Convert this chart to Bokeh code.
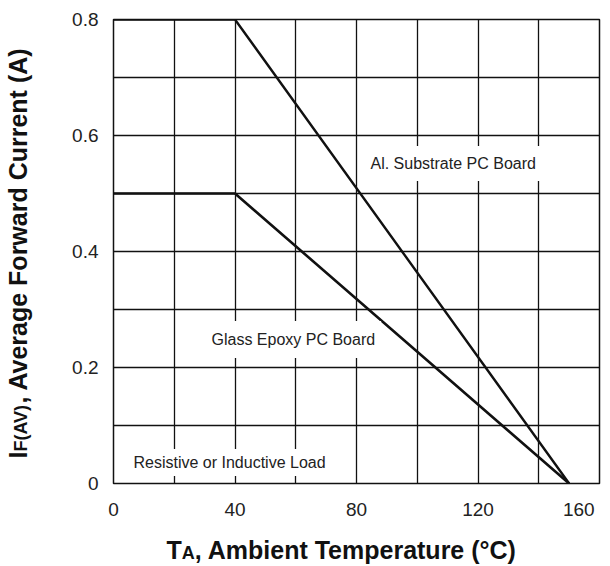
import numpy as np
from bokeh.plotting import figure
from bokeh.layouts import row, column
from bokeh.models import FixedTicker, Label, Range1d
from bokeh.embed import file_html
from bokeh.resources import INLINE

# ---- data ----
temperature = [0, 40, 150]
al_substrate_current = [0.8, 0.8, 0.0]
glass_epoxy_current = [0.5, 0.5, 0.0]

x_tick_values = [0, 40, 80, 120, 160]
x_tick_labels = ["0", "40", "80", "120", "160\u00a0\u00a0\u00a0"]
y_tick_values = [0, 0.2, 0.4, 0.6, 0.8]
y_tick_labels = ["0", "0.2", "0.4", "0.6", "0.8"]
x_grid_values = [0, 20, 40, 60, 80, 100, 120, 140, 160]
y_grid_values = [0, 0.1, 0.2, 0.3, 0.4, 0.5, 0.6, 0.7, 0.8]

FONT = "Liberation Sans"
INK = "#111111"

TOTAL_W, TOTAL_H = 610, 566
LEFT_W = 40
BOTTOM_H = 42
MAIN_W = TOTAL_W - LEFT_W
MAIN_H = TOTAL_H - BOTTOM_H

FX0, FX1, FY0, FY1 = 113, 599, 19, 483
FW, FH = FX1 - FX0, FY1 - FY0
BL = FX0 - LEFT_W
BR = MAIN_W - (FX1 - LEFT_W)
BT = FY0
BB = MAIN_H - FY1

p = figure(width=MAIN_W, height=MAIN_H, x_range=Range1d(0, 160), y_range=Range1d(0, 0.8),
           output_backend="svg", toolbar_location=None,
           min_border_left=BL, min_border_right=BR, min_border_top=BT, min_border_bottom=BB,
           background_fill_color="white", border_fill_color="white")

p.outline_line_color = INK
p.outline_line_width = 1.5
p.outline_line_alpha = 1.0

for g, vals in ((p.xgrid, x_grid_values), (p.ygrid, y_grid_values)):
    g.ticker = FixedTicker(ticks=vals)
    g.grid_line_color = INK
    g.grid_line_width = 1.3
    g.grid_line_alpha = 1.0

p.xaxis.ticker = FixedTicker(ticks=x_tick_values)
p.yaxis.ticker = FixedTicker(ticks=y_tick_values)
p.xaxis.major_label_overrides = dict(zip(x_tick_values, x_tick_labels))
p.yaxis.major_label_overrides = dict(zip(y_tick_values, y_tick_labels))
for ax in (p.xaxis, p.yaxis):
    ax.axis_line_color = None
    ax.major_tick_line_color = None
    ax.minor_tick_line_color = None
    ax.major_tick_out = 0
    ax.major_tick_in = 0
    ax.major_label_text_font = FONT
    ax.major_label_text_font_size = "19px"
    ax.major_label_text_color = "#222222"
    ax.major_label_standoff = 15

p.line(temperature, al_substrate_current, line_color=INK, line_width=2.4)
p.line(temperature, glass_epoxy_current, line_color=INK, line_width=2.6)


def sx(px):
    return (px - FX0) * 160 / FW


def sy(py):
    return (FY1 - py) * 0.8 / FH


def curve_label(text, px, py, pad):
    p.add_layout(Label(x=sx(px), y=sy(py), text=text, text_font=FONT,
                       text_font_size="16px", text_color="#222222",
                       text_align="left", text_baseline="middle",
                       background_fill_color="white", padding=pad))


curve_label("Al. Substrate PC Board", 364, 163, (6, 9))
curve_label("Glass Epoxy PC Board", 205, 339, (6, 10))
curve_label("Resistive or Inductive Load", 127, 462, (6, 5))


def strip(w, h, xr):
    f = figure(width=w, height=h, x_range=xr, y_range=Range1d(0, h),
               x_axis_type=None, y_axis_type=None, output_backend="svg",
               toolbar_location=None, min_border=0,
               background_fill_color="white", border_fill_color="white")
    f.outline_line_color = None
    f.xgrid.visible = False
    f.ygrid.visible = False
    return f


def title_piece(f, text, x, y, size, angle=0.0):
    f.add_layout(Label(x=x, y=y, text=text, text_font=FONT, text_font_size=f"{size}px",
                       text_font_style="bold", text_color=INK, angle=angle,
                       text_align="left", text_baseline="alphabetic"))


big, small = 25, 18
SHIFT = 0.44  # compensation (in em) of the rendered baseline offset

# y-axis title: baseline at page x = 28, starting at page y = 458 (reading upwards)
ystrip = strip(LEFT_W, TOTAL_H, Range1d(0, LEFT_W))
BX = 28
y0 = 458
title_piece(ystrip, "I", BX - SHIFT * big, TOTAL_H - y0, big, np.pi / 2)
y1 = y0 - 0.278 * big
title_piece(ystrip, "F(AV)", BX - SHIFT * small, TOTAL_H - y1, small, np.pi / 2)
y2 = y1 - 2.666 * small
title_piece(ystrip, ", Average Forward Current (A)", BX - SHIFT * big, TOTAL_H - y2, big, np.pi / 2)

# x-axis title: baseline at page y = 560, starting at page x = 166
xstrip = strip(MAIN_W, BOTTOM_H, Range1d(FX0, FX1))
BY = BOTTOM_H - (560 - MAIN_H)
x0 = 166
title_piece(xstrip, "T", x0, BY + SHIFT * big, big)
x1 = x0 + 0.611 * big
title_piece(xstrip, "A", x1, BY + SHIFT * small, small)
x2 = x1 + 0.722 * small
title_piece(xstrip, ", Ambient Temperature (°C)", x2, BY + SHIFT * big, big)

layout = row(ystrip, column(p, xstrip, spacing=0), spacing=0)

open("out.html", "w").write(file_html(layout, INLINE))
